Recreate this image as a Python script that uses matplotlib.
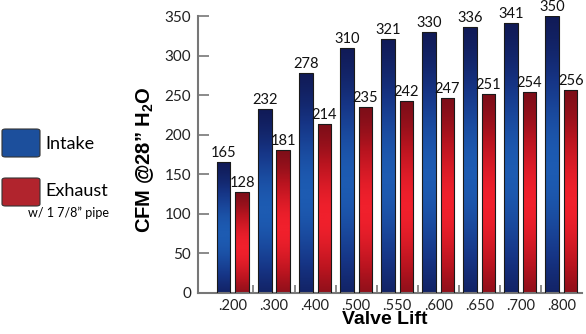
import numpy as np
import matplotlib.pyplot as plt
from matplotlib.colors import LinearSegmentedColormap
from matplotlib.patches import FancyBboxPatch

# Flow bench data
lifts = ['.200', '.300', '.400', '.500', '.550', '.600', '.650', '.700', '.800']
intake = [165, 232, 278, 310, 321, 330, 336, 341, 350]
exhaust = [128, 181, 214, 235, 242, 247, 251, 254, 256]

plt.rcParams['font.family'] = ['Lato', 'DejaVu Sans']
plt.rcParams['mathtext.fontset'] = 'custom'
plt.rcParams['mathtext.bf'] = 'Liberation Sans:bold'
plt.rcParams['mathtext.rm'] = 'Liberation Sans:bold'

blue_cmap = LinearSegmentedColormap.from_list('b', ['#0f1248', '#163586', '#1d5bb2'])
red_cmap = LinearSegmentedColormap.from_list('r', ['#6a0c16', '#b8141f', '#f0202c'])

fig = plt.figure(figsize=(5.86, 3.34), dpi=100)
ax = fig.add_axes([198 / 586, 1 - 293 / 334, 384 / 586, 277 / 334])

x = np.arange(len(lifts))
w = 0.33
off = 0.225

# vertical glow, dark at top and bottom
t = np.linspace(0, 1, 200)
prof = np.exp(-((t - 0.45) / 0.38) ** 2)
grad = prof[:, None]


def gradient_bars(xs, vals, cmap):
    bars = ax.bar(xs, vals, width=w, color='none', edgecolor='#1a1a1a', linewidth=0.8, zorder=3)
    for b, v in zip(bars, vals):
        x0 = b.get_x()
        im = ax.imshow(grad, cmap=cmap, vmin=0, vmax=1, origin='lower', aspect='auto',
                       extent=[x0, x0 + w, 0, v], zorder=2, interpolation='bilinear')
        im.set_clip_path(b)
        ax.text(x0 + w / 2, v + 2.5, str(v), ha='center', va='bottom', fontsize=10.5, color='#111')
    return bars


gradient_bars(x - off, intake, blue_cmap)
gradient_bars(x + off, exhaust, red_cmap)

ax.set_xlim(-0.85, 8.5)
ax.set_ylim(0, 350)
ax.set_yticks(np.arange(0, 351, 50))
ax.set_xticks(x)
ax.set_xticklabels(lifts)
ax.set_xticks(np.arange(0.5, 8, 1), minor=True)
ax.tick_params(axis='y', direction='in', length=8, width=1.2, color='#777', labelsize=11, pad=5,
               labelcolor='#222')
ax.tick_params(axis='x', which='major', length=0, labelsize=10.5, pad=4, labelcolor='#222')
ax.tick_params(axis='x', which='minor', direction='in', length=6, width=1.2, color='#777')

for s in ['top', 'right']:
    ax.spines[s].set_visible(False)
for s in ['left', 'bottom']:
    ax.spines[s].set_color('#777')
    ax.spines[s].set_linewidth(1.5)

fig.text(145 / 586, 1 - 160 / 334, 'CFM @28\u201d H$_{\\mathbf{2}}$O', rotation=90, ha='center',
         va='center', fontsize=14.5, fontweight='bold', family='Liberation Sans')
fig.text(385 / 586, 1 - 320 / 334, 'Valve Lift', ha='center', va='center', fontsize=14,
         fontweight='bold', family='Liberation Sans')

# legend on the left
for y0, fc in [(129, '#1c4f9c'), (178, '#b1242d')]:
    box = FancyBboxPatch((2 / 586, 1 - (y0 + 28) / 334), 38 / 586, 28 / 334,
                         boxstyle='round,pad=0,rounding_size=0.006', transform=fig.transFigure,
                         facecolor=fc, edgecolor='#333', linewidth=0.8)
    fig.patches.append(box)
fig.text(45 / 586, 1 - 144 / 334, 'Intake', ha='left', va='center', fontsize=13)
fig.text(45 / 586, 1 - 191 / 334, 'Exhaust', ha='left', va='center', fontsize=13)
fig.text(68 / 586, 1 - 213 / 334, 'w/ 1 7/8\u201d pipe', ha='center', va='center', fontsize=9)

fig.savefig('out.png', dpi=100)
